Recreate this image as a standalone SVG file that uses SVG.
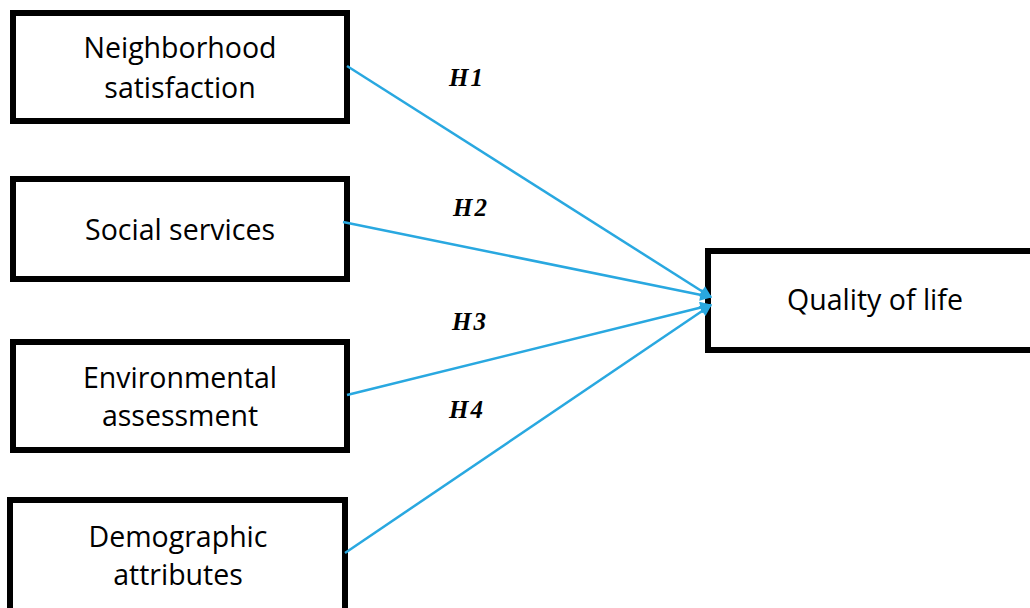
<svg xmlns="http://www.w3.org/2000/svg" width="1030" height="608" viewBox="0 0 1030 608">
  <style>
    .box { fill: #ffffff; stroke: #000000; stroke-width: 6; }
    .lbl { font-family: "Open Sans", "Liberation Sans", sans-serif; font-size: 28.5px; fill: #000000; text-anchor: middle; }
    .hyp { font-family: "Liberation Serif", serif; font-size: 25px; font-weight: bold; font-style: italic; fill: #000000; text-anchor: middle; letter-spacing: 2px; }
    .edge { stroke: #29a8e0; stroke-width: 2.5; fill: none; }
  </style>
  <defs>
    <marker id="arrow" viewBox="0 0 10 10" refX="9" refY="5" markerWidth="14" markerHeight="12" markerUnits="userSpaceOnUse" orient="auto">
      <path d="M0,0 L10,5 L0,10 Z" fill="#29a8e0"/>
    </marker>
  </defs>
  <rect width="1030" height="608" fill="#ffffff"/>

  <g id="neighborhood">
    <rect class="box" x="13" y="13" width="334" height="108"/>
    <text class="lbl" x="180" y="58">Neighborhood</text>
    <text class="lbl" x="180" y="98">satisfaction</text>
  </g>
  <g id="social">
    <rect class="box" x="13" y="179" width="334" height="100"/>
    <text class="lbl" x="180" y="240">Social services</text>
  </g>
  <g id="environment">
    <rect class="box" x="13" y="342" width="334" height="108"/>
    <text class="lbl" x="180" y="388">Environmental</text>
    <text class="lbl" x="180" y="426">assessment</text>
  </g>
  <g id="demographic">
    <rect class="box" x="10" y="500" width="335" height="120"/>
    <text class="lbl" x="178" y="547">Demographic</text>
    <text class="lbl" x="178" y="585">attributes</text>
  </g>
  <g id="quality">
    <rect class="box" x="708" y="251" width="330" height="99"/>
    <text class="lbl" x="875" y="310">Quality of life</text>
  </g>

  <g id="edges">
    <line class="edge" x1="347" y1="66" x2="711" y2="297" marker-end="url(#arrow)"/>
    <line class="edge" x1="343" y1="222" x2="711" y2="297" marker-end="url(#arrow)"/>
    <line class="edge" x1="347" y1="395" x2="711" y2="305" marker-end="url(#arrow)"/>
    <line class="edge" x1="345" y1="553" x2="711" y2="305" marker-end="url(#arrow)"/>
    <text class="hyp" x="467" y="86">H1</text>
    <text class="hyp" x="471" y="216">H2</text>
    <text class="hyp" x="470" y="330">H3</text>
    <text class="hyp" x="467" y="418">H4</text>
  </g>
</svg>
